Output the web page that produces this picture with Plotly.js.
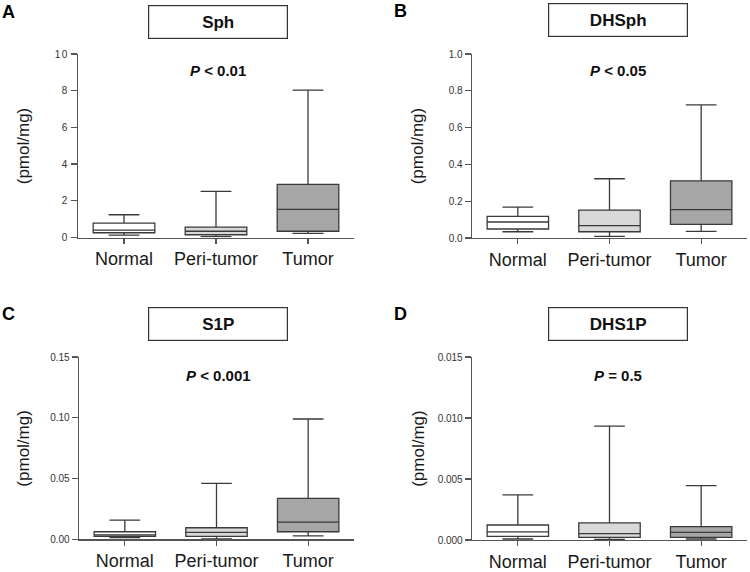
<!DOCTYPE html>
<html>
<head>
<meta charset="utf-8">
<script src="https://cdn.plot.ly/plotly-3.0.1.min.js"></script>
<style>
  html, body { margin: 0; padding: 0; background: #fff; }
  #chart { width: 750px; height: 572px; }
  .ytick text { letter-spacing: 1.4px; }
</style>
</head>
<body>
<div id="chart"></div>
<script>
// ---- Data ----
const categories = ['Normal', 'Peri-tumor', 'Tumor'];
const groupFills = ['#ffffff', '#d9d9d9', '#a6a6a6'];

const panelLetters = ['A', 'B', 'C', 'D'];
const panelTitles = ['Sph', 'DHSph', 'S1P', 'DHS1P'];
const pValueTexts = ['<b><i>P</i> &lt; 0.01</b>', '<b><i>P</i> &lt; 0.05</b>', '<b><i>P</i> &lt; 0.001</b>', '<b><i>P</i> = 0.5</b>'];
const yAxisLabel = '(pmol/mg)';

// Sph
const sphMin = [0.13, 0.05, 0.23];
const sphQ1  = [0.26, 0.15, 0.34];
const sphMed = [0.40, 0.34, 1.53];
const sphQ3  = [0.78, 0.56, 2.90];
const sphMax = [1.24, 2.51, 8.03];
// DHSph
const dhsphMin = [0.034, 0.009, 0.036];
const dhsphQ1  = [0.049, 0.034, 0.074];
const dhsphMed = [0.087, 0.067, 0.154];
const dhsphQ3  = [0.118, 0.152, 0.311];
const dhsphMax = [0.168, 0.322, 0.723];
// S1P
const s1pMin = [0.0013, 0.0004, 0.0029];
const s1pQ1  = [0.0024, 0.0024, 0.0062];
const s1pMed = [0.0037, 0.0057, 0.0141];
const s1pQ3  = [0.0062, 0.0095, 0.0336];
const s1pMax = [0.0158, 0.0460, 0.0990];
// DHS1P
const dhs1pMin = [0.00008, 0.00005, 0.00008];
const dhs1pQ1  = [0.00030, 0.00022, 0.00022];
const dhs1pMed = [0.00066, 0.00052, 0.00063];
const dhs1pQ3  = [0.00123, 0.00140, 0.00109];
const dhs1pMax = [0.00370, 0.00934, 0.00445];

// y axis tick setups
const yRanges = [[0, 10], [0, 1.0], [0, 0.15], [0, 0.015]];
const yDticks = [2, 0.2, 0.05, 0.005];
const yFormats = ['d', '.1f', '.2f', '.3f'];

const panels = [
  {min: sphMin, q1: sphQ1, med: sphMed, q3: sphQ3, max: sphMax},
  {min: dhsphMin, q1: dhsphQ1, med: dhsphMed, q3: dhsphQ3, max: dhsphMax},
  {min: s1pMin, q1: s1pQ1, med: s1pMed, q3: s1pQ3, max: s1pMax},
  {min: dhs1pMin, q1: dhs1pQ1, med: dhs1pMed, q3: dhs1pQ3, max: dhs1pMax}
];

// ---- Layout geometry (pixels in 750x572 canvas) ----
const W = 750, H = 572;
const plotBoxes = [ // [left, right, top, bottom] in px
  [78, 354, 54, 237.5],
  [472, 747, 54, 238],
  [79, 354, 357, 539.3],
  [472, 747, 357, 540]
];
const titleCenters = [[218, 22], [617.5, 20], [218, 324], [617.5, 324]];
const pCenters = [[218, 70.7], [617.7, 70.7], [218, 375.3], [617.7, 375.3]];
const letterCenters = [[8.5, 12], [400, 11], [8.5, 313.5], [400, 314]];
const yLabelX = [23.5, 418.3, 23.5, 418.3];

const px = x => x / W;
const py = y => 1 - y / H;

const lineColor = '#3a3a3a';
const axisColor = '#555555';
const fontFam = 'Arial, "Liberation Sans", Helvetica, sans-serif';

const traces = [];
const layout = {
  width: W, height: H,
  margin: {l: 0, r: 0, t: 0, b: 0},
  paper_bgcolor: '#ffffff',
  plot_bgcolor: '#ffffff',
  showlegend: false,
  boxmode: 'overlay',
  annotations: [],
  font: {family: fontFam}
};

panels.forEach((p, i) => {
  const n = i + 1;
  const xa = n === 1 ? 'x' : 'x' + n;
  const ya = n === 1 ? 'y' : 'y' + n;
  categories.forEach((c, j) => {
    traces.push({
      type: 'box',
      x: [c],
      q1: [p.q1[j]],
      median: [p.med[j]],
      q3: [p.q3[j]],
      lowerfence: [p.min[j]],
      upperfence: [p.max[j]],
      width: 0.67,
      whiskerwidth: 0.5,
      fillcolor: groupFills[j],
      line: {color: lineColor, width: 1.3},
      boxpoints: false,
      hoverinfo: 'skip',
      showlegend: false,
      xaxis: xa,
      yaxis: ya
    });
  });
  const b = plotBoxes[i];
  layout['xaxis' + (n === 1 ? '' : n)] = {
    domain: [px(b[0]), px(b[1])],
    anchor: ya,
    type: 'category',
    categoryarray: categories,
    range: [-0.5, 2.5],
    showline: true, linecolor: axisColor, linewidth: 1.3,
    ticks: 'outside', ticklen: 5, tickwidth: 1.3, tickcolor: axisColor,
    tickfont: {family: fontFam, size: 18, color: '#1a1a1a'},
    showgrid: false, zeroline: false, fixedrange: true
  };
  layout['yaxis' + (n === 1 ? '' : n)] = {
    domain: [py(b[3]), py(b[2])],
    anchor: xa,
    range: yRanges[i],
    dtick: yDticks[i],
    tick0: 0,
    tickformat: yFormats[i],
    showline: true, linecolor: axisColor, linewidth: 1.3,
    ticks: 'outside', ticklen: 6, tickwidth: 1.3, tickcolor: axisColor,
    tickfont: {family: fontFam, size: 10, color: '#333333'},
    showgrid: false, zeroline: false, fixedrange: true
  };

  // panel letter
  layout.annotations.push({
    text: '<b>' + panelLetters[i] + '</b>',
    xref: 'paper', yref: 'paper',
    x: px(letterCenters[i][0]), y: py(letterCenters[i][1]),
    xanchor: 'center', yanchor: 'middle', showarrow: false,
    font: {family: fontFam, size: 18, color: '#000'}
  });
  // boxed title
  layout.annotations.push({
    text: '<b>' + panelTitles[i] + '</b>',
    xref: 'paper', yref: 'paper',
    x: px(titleCenters[i][0]), y: py(titleCenters[i][1]),
    xanchor: 'center', yanchor: 'middle', showarrow: false,
    width: 138, height: 32, borderpad: 0,
    bordercolor: '#333333', borderwidth: 1.2, bgcolor: '#ffffff',
    font: {family: fontFam, size: 17, color: '#111'}
  });
  // p-value
  layout.annotations.push({
    text: pValueTexts[i],
    xref: 'paper', yref: 'paper',
    x: px(pCenters[i][0]), y: py(pCenters[i][1]),
    xanchor: 'center', yanchor: 'middle', showarrow: false,
    font: {family: fontFam, size: 15, color: '#111'}
  });
  // y-axis label
  layout.annotations.push({
    text: yAxisLabel,
    xref: 'paper', yref: 'paper',
    x: px(yLabelX[i]), y: py((b[2] + b[3]) / 2),
    xanchor: 'center', yanchor: 'middle', showarrow: false,
    textangle: -90,
    font: {family: fontFam, size: 17, color: '#1a1a1a'}
  });
});

Plotly.newPlot('chart', traces, layout, {staticPlot: true, displayModeBar: false});
</script>
</body>
</html>
